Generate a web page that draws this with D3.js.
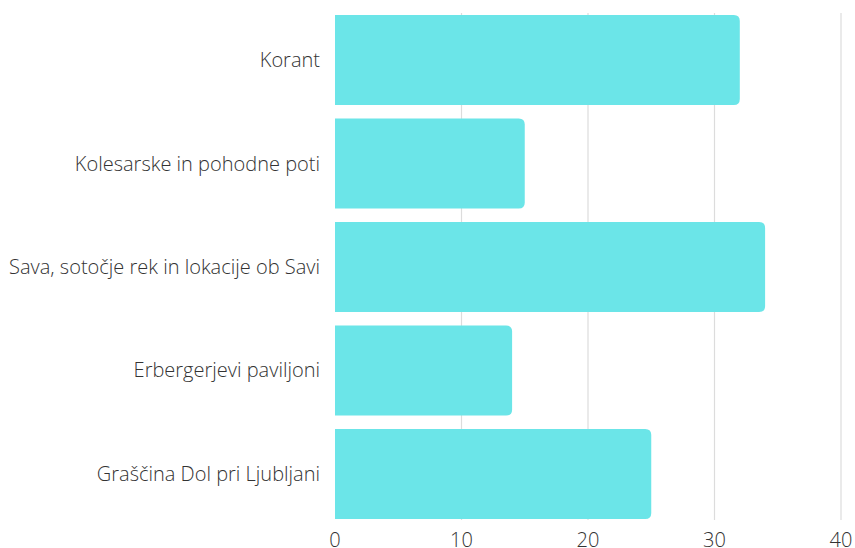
<!DOCTYPE html>
<html><head><meta charset="utf-8">
<script src="https://cdn.jsdelivr.net/npm/d3@7"></script>
<style>
body{margin:0;background:#fff;}
text{font-family:"Open Sans",sans-serif;font-weight:300;fill:#333;}
</style></head>
<body><svg id="c" width="855" height="548"></svg>
<script>
const categories = ["Korant","Kolesarske in pohodne poti","Sava, sotočje rek in lokacije ob Savi","Erbergerjevi paviljoni","Graščina Dol pri Ljubljani"];
const values = [32, 15, 34, 14, 25];
const tickValues = [0, 10, 20, 30, 40];

const svg = d3.select("#c");
const x = d3.scaleLinear().domain([0, 40]).range([335, 841]);
const y = d3.scaleBand().domain(categories).range([15, 519]).paddingInner(0.13).paddingOuter(0);

// gridlines
svg.append("g").selectAll("line").data(tickValues.slice(1)).join("line")
  .attr("x1", d => x(d)).attr("x2", d => x(d))
  .attr("y1", 13).attr("y2", 520)
  .attr("stroke", "#dcdcdc").attr("stroke-width", 1.2);

// bars with right rounded corners
const r = 6;
svg.append("g").selectAll("path").data(categories).join("path")
  .attr("d", (c, i) => {
    const x0 = x(0), x1 = x(values[i]), y0 = y(c), h = y.bandwidth();
    return `M${x0},${y0}H${x1 - r}Q${x1},${y0} ${x1},${y0 + r}V${y0 + h - r}Q${x1},${y0 + h} ${x1 - r},${y0 + h}H${x0}Z`;
  })
  .attr("fill", "#6be5e8");

// category labels
svg.append("g").selectAll("text").data(categories).join("text")
  .attr("x", 320).attr("y", c => y(c) + y.bandwidth() / 2)
  .attr("dy", "0.35em").attr("text-anchor", "end")
  .attr("font-size", 20).text(c => c);

// x tick labels
svg.append("g").selectAll("text").data(tickValues).join("text")
  .attr("x", d => x(d)).attr("y", 547)
  .attr("text-anchor", "middle").attr("font-size", 20)
  .text(d => d);
</script></body></html>
